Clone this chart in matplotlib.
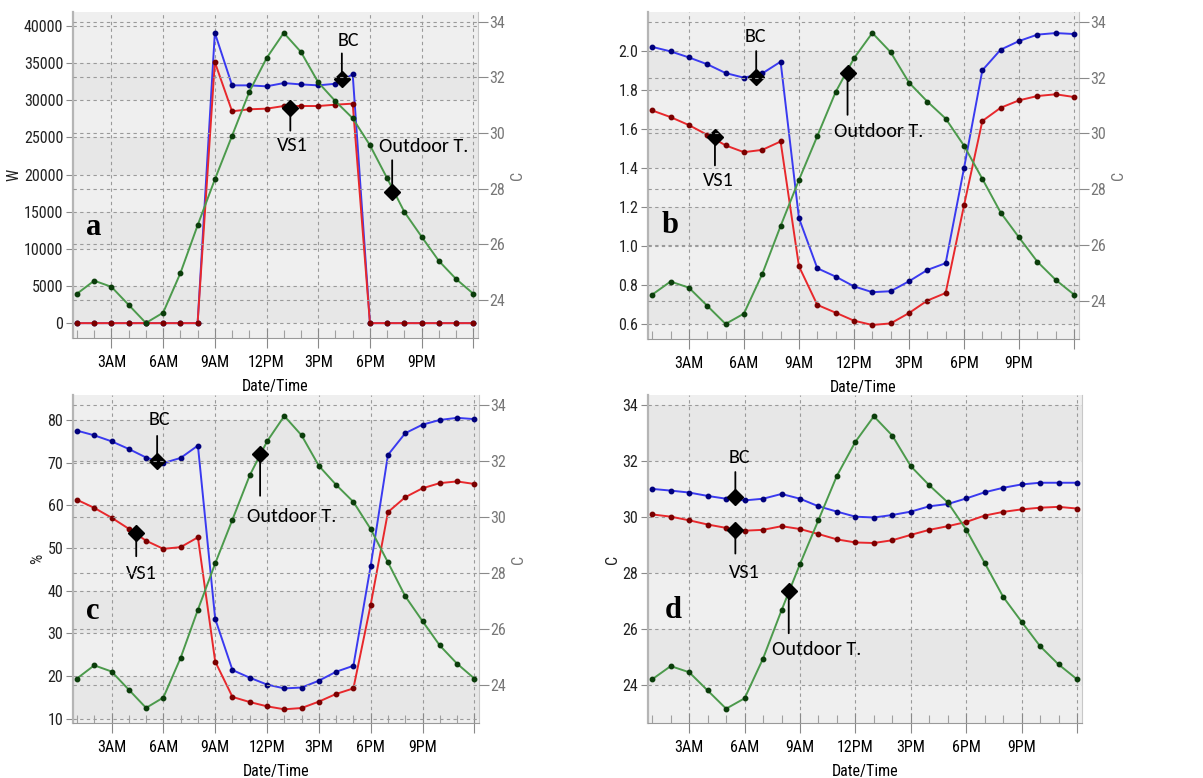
import numpy as np
import matplotlib.pyplot as plt
from matplotlib.ticker import MultipleLocator, FixedLocator, FormatStrFormatter

# hourly values, 1AM .. 12AM (hour 24)
hours = list(range(1, 25))
outdoor_t = [24.22, 24.69, 24.47, 23.82, 23.17, 23.54, 24.96, 26.68, 28.33, 29.90, 31.48, 32.69,
             33.60, 32.91, 31.82, 31.14, 30.53, 29.56, 28.37, 27.16, 26.27, 25.40, 24.75, 24.22]

# a) cooling power, W
power_bc = [0, 0, 0, 0, 0, 0, 0, 0, 39100, 32020, 32020, 31890,
            32330, 32150, 32020, 32240, 33500, 0, 0, 0, 0, 0, 0, 0]
power_vs1 = [0, 0, 0, 0, 0, 0, 0, 0, 35150, 28530, 28800, 28880,
             29240, 29240, 29240, 29420, 29560, 0, 0, 0, 0, 0, 0, 0]

# b) second quantity
b_bc = [2.021, 1.998, 1.967, 1.932, 1.887, 1.863, 1.885, 1.945, 1.143, 0.886, 0.843, 0.793,
        0.763, 0.768, 0.819, 0.877, 0.912, 1.399, 1.901, 2.007, 2.051, 2.084, 2.092, 2.087]
b_vs1 = [1.695, 1.661, 1.620, 1.570, 1.516, 1.481, 1.493, 1.536, 0.896, 0.698, 0.658, 0.617,
         0.595, 0.603, 0.656, 0.720, 0.759, 1.208, 1.641, 1.709, 1.747, 1.769, 1.778, 1.764]

# c) relative humidity, %
rh_bc = [77.5, 76.4, 75.0, 73.2, 71.2, 69.9, 71.1, 74.0, 33.4, 21.4, 19.6, 18.0,
         17.1, 17.3, 18.9, 21.0, 22.4, 45.8, 71.8, 76.9, 78.9, 80.0, 80.5, 80.2]
rh_vs1 = [61.3, 59.4, 57.1, 54.5, 51.7, 49.8, 50.2, 52.5, 23.4, 15.1, 13.9, 12.9,
          12.2, 12.5, 14.0, 15.8, 17.1, 36.7, 58.4, 61.9, 64.0, 65.2, 65.6, 65.0]

# d) indoor temperature, C
t_bc = [31.01, 30.95, 30.88, 30.76, 30.66, 30.60, 30.66, 30.83, 30.66, 30.39, 30.20, 30.02,
        29.99, 30.08, 30.20, 30.39, 30.47, 30.67, 30.89, 31.05, 31.17, 31.23, 31.23, 31.23]
t_vs1 = [30.10, 30.02, 29.89, 29.74, 29.62, 29.52, 29.55, 29.68, 29.58, 29.40, 29.21, 29.10,
         29.08, 29.18, 29.37, 29.55, 29.68, 29.83, 30.06, 30.19, 30.28, 30.34, 30.37, 30.31]

tick_hours = [3, 6, 9, 12, 15, 18, 21, 24]
tick_names = ["3AM", "6AM", "9AM", "12PM", "3PM", "6PM", "9PM", ""]

BLUE, BLUE_DOT = "#3a3af0", "#00007a"
RED, RED_DOT = "#e8282c", "#7a0000"
GREEN, GREEN_DOT = "#4c9a4c", "#0b3d0b"
GRID = "#9a9a9a"
TICKFONT = ["Roboto Condensed", "Archivo Narrow", "Liberation Sans"]
NOTEFONT = ["Carlito", "Lato", "DejaVu Sans"]

fig = plt.figure(figsize=(12.03, 7.78), dpi=100)


def style_axes(ax, yticks, ylim, ylabel, fmt=None):
    ax.set_facecolor("#efefef")
    ax.set_xlim(0.77, 24.27)
    ax.set_ylim(*ylim)
    ax.yaxis.set_major_locator(FixedLocator(yticks))
    if fmt:
        ax.yaxis.set_major_formatter(FormatStrFormatter(fmt))
    for k in range(0, len(yticks) - 1, 2):
        ax.axhspan(yticks[k], yticks[k + 1], color="#e7e7e7", zorder=0, lw=0)
    ax.set_xticks(tick_hours)
    ax.set_xticklabels(tick_names)
    ax.xaxis.set_minor_locator(MultipleLocator(1))
    ax.grid(which="major", linestyle=(0, (3, 3)), color=GRID, lw=0.8)
    ax.set_axisbelow(True)
    ax.tick_params(axis="x", which="major", direction="inout", length=15, width=0.8,
                   color="#8a8a8a", pad=5, labelsize=11.5)
    ax.tick_params(axis="x", which="minor", direction="in", length=6, width=0.8, color="#a0a0a0")
    ax.tick_params(axis="y", which="major", direction="out", length=5, width=0.8,
                   color="#8a8a8a", pad=2, labelsize=11.5, labelcolor="#222222")
    for lab in ax.get_xticklabels() + ax.get_yticklabels():
        lab.set_family(TICKFONT)
    ax.spines["top"].set_visible(False)
    ax.spines["left"].set_color("#b5b5b5")
    ax.spines["left"].set_linewidth(1.6)
    ax.spines["bottom"].set_color("#9a9a9a")
    ax.spines["right"].set_color("#c8c8c8")
    ax.set_xlabel("Date/Time", family=TICKFONT, fontsize=11.5, labelpad=6)
    ax.set_ylabel(ylabel, family=TICKFONT, fontsize=11.5, labelpad=2, color="#222222")


def temp_axis(ax):
    tw = ax.twinx()
    tw.set_ylim(22.63, 34.35)
    tw.yaxis.set_major_locator(FixedLocator([24, 26, 28, 30, 32, 34]))
    tw.grid(axis="y", linestyle=(0, (3, 3)), color=GRID, lw=0.8)
    tw.tick_params(axis="y", direction="out", length=7, width=0.8, color="#8a8a8a",
                   labelsize=11.5, labelcolor="#777777", pad=1)
    for lab in tw.get_yticklabels():
        lab.set_family(TICKFONT)
    for s in tw.spines.values():
        s.set_visible(False)
    tw.set_ylabel("C", family=TICKFONT, fontsize=11.5, color="#777777", labelpad=4)
    return tw


def series(ax, vals, col, dot):
    ax.plot(hours, vals, color=col, lw=1.4, marker="o", ms=3.2, mfc=dot, mec=dot, zorder=3)


def note(ax, x, y, text, line_px, dx, dy):
    ax.annotate("", xy=(x, y), xytext=(0, line_px), textcoords="offset pixels",
                arrowprops=dict(arrowstyle="-", color="black", lw=1.3, shrinkA=0, shrinkB=0),
                zorder=6)
    ax.plot([x], [y], marker="D", ms=8, color="black", zorder=7)
    ax.annotate(text, xy=(x, y), xytext=(dx, dy), textcoords="offset pixels",
                ha="center", va="center", fontsize=14.5, family=NOTEFONT, zorder=7)


def letter(ax, s, x, y):
    ax.text(x, y, s, transform=ax.transAxes, fontsize=22, fontweight="bold",
            family=["Liberation Serif", "DejaVu Serif"], ha="center", va="center")


# panel a
ax = fig.add_axes([73 / 1203, 1 - 338 / 778, 405 / 1203, 326 / 778])
style_axes(ax, list(range(0, 40001, 5000)), (-2000, 41900), "W")
series(ax, power_bc, BLUE, BLUE_DOT)
series(ax, power_vs1, RED, RED_DOT)
tw = temp_axis(ax)
series(tw, outdoor_t, GREEN, GREEN_DOT)
note(ax, 16.37, 32820, "BC", 26, 7, 39)
note(ax, 13.38, 29020, "VS1", -23, 2, -38)
note(tw, 19.29, 27.87, "Outdoor T.", 32, 32, 46)
letter(ax, "a", 0.05, 0.34)

# panel b
ax = fig.add_axes([648 / 1203, 1 - 339 / 778, 431 / 1203, 327 / 778])
style_axes(ax, [0.6, 0.8, 1.0, 1.2, 1.4, 1.6, 1.8, 2.0], (0.523, 2.20), "", "%.1f")
series(ax, b_bc, BLUE, BLUE_DOT)
series(ax, b_vs1, RED, RED_DOT)
tw = temp_axis(ax)
series(tw, outdoor_t, GREEN, GREEN_DOT)
note(ax, 6.67, 1.866, "BC", 26, -1, 41)
note(ax, 4.42, 1.557, "VS1", -28, 3, -43)
note(tw, 11.65, 32.17, "Outdoor T.", -42, 31, -59)
letter(ax, "b", 0.051, 0.346)

# panel c
ax = fig.add_axes([73 / 1203, 1 - 723 / 778, 406 / 1203, 328 / 778])
style_axes(ax, list(range(10, 81, 10)), (8.99, 85.85), "%")
series(ax, rh_bc, BLUE, BLUE_DOT)
series(ax, rh_vs1, RED, RED_DOT)
tw = temp_axis(ax)
series(tw, outdoor_t, GREEN, GREEN_DOT)
note(ax, 5.64, 70.4, "BC", 25, 2, 41)
note(ax, 4.43, 53.46, "VS1", -23, 5, -40)
note(tw, 11.6, 32.25, "Outdoor T.", -42, 32, -63)
letter(ax, "c", 0.049, 0.34)

# panel d
ax = fig.add_axes([648 / 1203, 1 - 723 / 778, 434 / 1203, 328 / 778])
style_axes(ax, [24, 26, 28, 30, 32, 34], (22.66, 34.36), "C")
series(ax, t_bc, BLUE, BLUE_DOT)
series(ax, t_vs1, RED, RED_DOT)
series(ax, outdoor_t, GREEN, GREEN_DOT)
note(ax, 5.5, 30.72, "BC", 25, 4, 40)
note(ax, 5.5, 29.56, "VS1", -24, 9, -43)
note(ax, 8.39, 27.36, "Outdoor T.", -42, 28, -58)
letter(ax, "d", 0.058, 0.344)

fig.savefig("out.png", dpi=100)
